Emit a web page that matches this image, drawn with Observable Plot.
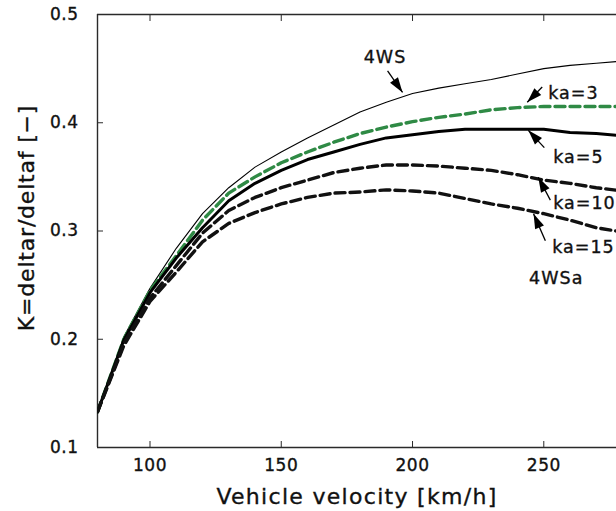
<!DOCTYPE html>
<html>
<head>
<meta charset="utf-8">
<script src="https://cdn.jsdelivr.net/npm/d3@7"></script>
<script src="https://cdn.jsdelivr.net/npm/@observablehq/plot@0.6"></script>
<style>
  html, body { margin: 0; padding: 0; background: #fff; overflow: hidden; }
  #chart svg { display: block; }
  #chart svg text { letter-spacing: 0.5px; stroke: #111; stroke-width: 0.35px; }
  #chart svg .xtitle text { letter-spacing: 1.3px; }
  #chart svg .ytitle text { letter-spacing: 0.8px; }
  #chart svg .annot text { letter-spacing: 1px; }
</style>
</head>
<body>
<div id="chart"></div>
<script>
// ---- data ----
const speed = [80, 90, 100, 110, 120, 130, 140, 150, 160, 170, 180, 190, 200, 210, 220, 230, 240, 250, 260, 270, 280];
const k4WS  = [0.133, 0.202, 0.247, 0.284, 0.316, 0.340, 0.359, 0.373, 0.386, 0.398, 0.410, 0.419, 0.427, 0.432, 0.436, 0.440, 0.445, 0.450, 0.453, 0.455, 0.457];
const kKa3  = [0.133, 0.200, 0.245, 0.277, 0.310, 0.335, 0.350, 0.363, 0.373, 0.382, 0.390, 0.396, 0.401, 0.405, 0.408, 0.412, 0.414, 0.415, 0.415, 0.415, 0.415];
const kKa5  = [0.133, 0.199, 0.243, 0.275, 0.303, 0.328, 0.344, 0.356, 0.366, 0.373, 0.380, 0.386, 0.389, 0.392, 0.394, 0.394, 0.394, 0.394, 0.391, 0.390, 0.388];
const kKa10 = [0.133, 0.196, 0.238, 0.268, 0.298, 0.319, 0.331, 0.340, 0.347, 0.354, 0.358, 0.361, 0.361, 0.360, 0.358, 0.356, 0.352, 0.347, 0.344, 0.340, 0.337];
const kKa15 = [0.133, 0.194, 0.235, 0.262, 0.290, 0.307, 0.317, 0.325, 0.331, 0.335, 0.336, 0.338, 0.337, 0.335, 0.330, 0.325, 0.321, 0.316, 0.310, 0.303, 0.299];

const seriesNames = ["4WS", "ka=3", "ka=5", "ka=10", "ka=15"];

// annotation labels (data coordinates, left edge / vertical centre)
const annotLabels = ["4WS", "ka=3", "ka=5", "ka=10", "ka=15", "4WSa"];
const annotX      = [181.4, 251.7, 253.6, 253.6, 253.2, 244.4];
const annotY      = [0.460, 0.4275, 0.368, 0.3257, 0.285, 0.256];

// annotation arrows (tail -> tip, data coordinates)
const arrowFromX = [190.5, 249.4, 250.2, 252.5, 250.6];
const arrowFromY = [0.448, 0.433, 0.377, 0.3285, 0.291];
const arrowTipX  = [196.2, 243.7, 244.1, 247.9, 246.1];
const arrowTipY  = [0.428, 0.419, 0.393, 0.3497, 0.316];

const xTicks = [100, 150, 200, 250];
const yTicks = [0.1, 0.2, 0.3, 0.4, 0.5];
const xDomain = [80, 277.7];
const yDomain = [0.1, 0.5];
const xLabel = "Vehicle velocity [km/h]";
const yLabel = "K=deltar/deltaf [−]";

// ---- layout ----
const W = 616, H = 511;
const mL = 97, mR = 0, mT = 14, mB = 64;
const xRange = [mL, W - mR];
const yRange = [H - mB, mT];

// ---- build tables ----
const allSeries = [k4WS, kKa3, kKa5, kKa10, kKa15];
const rows = [];
allSeries.forEach((vals, s) => vals.forEach((v, i) => rows.push({series: seriesNames[s], v: speed[i], k: v})));
const bySeries = name => rows.filter(r => r.series === name);

const labels = annotLabels.map((t, i) => ({t, x: annotX[i], y: annotY[i]}));

const sx = Plot.scale({x: {domain: xDomain, range: xRange}});
const sy = Plot.scale({y: {domain: yDomain, range: yRange}});
const arrows = arrowFromX.map((_, i) => {
  const dx = sx.apply(arrowTipX[i]) - sx.apply(arrowFromX[i]);
  const dy = sy.apply(arrowTipY[i]) - sy.apply(arrowFromY[i]);
  return {
    x1: arrowFromX[i], y1: arrowFromY[i],
    x2: arrowTipX[i], y2: arrowTipY[i],
    angle: Math.atan2(dx, -dy) * 180 / Math.PI
  };
});

// narrow filled arrowhead, tip at origin pointing up
const arrowHead = {
  draw(ctx) {
    ctx.moveTo(0, 0);
    ctx.lineTo(-4.8, 15);
    ctx.lineTo(4.8, 15);
    ctx.closePath();
  }
};

const dash = "10,5";
const frameColor = "#2a2a2a";

const chart = Plot.plot({
  width: W,
  height: H,
  marginLeft: mL, marginRight: mR, marginTop: mT, marginBottom: mB,
  style: {fontFamily: "DejaVu Sans, sans-serif", color: "#111", background: "#fff"},
  x: {domain: xDomain, range: xRange, label: null},
  y: {domain: yDomain, range: yRange, label: null},
  marks: [
    // frame (left, bottom, top; right side is cropped)
    Plot.ruleX([xDomain[0]], {stroke: frameColor, strokeWidth: 1.4}),
    Plot.ruleY([yDomain[0]], {stroke: frameColor, strokeWidth: 1.4}),
    Plot.ruleY([yDomain[1]], {stroke: frameColor, strokeWidth: 1.4}),
    // axes with inward ticks
    Plot.axisX(xTicks, {anchor: "bottom", tickSize: -6, tickPadding: 17, fontSize: 17, stroke: frameColor, label: null, tickFormat: d => String(d)}),
    Plot.axisX(xTicks, {anchor: "top", tickSize: -6, tickFormat: () => "", label: null, stroke: frameColor}),
    Plot.axisY(yTicks, {anchor: "left", tickSize: -6, tickPadding: 25, fontSize: 17, stroke: frameColor, label: null, tickFormat: d => d.toFixed(1)}),
    // curves
    Plot.line(bySeries("4WS"),  {x: "v", y: "k", stroke: "#000", strokeWidth: 1.1, clip: true}),
    Plot.line(bySeries("ka=3"), {x: "v", y: "k", stroke: "#2f8a45", strokeWidth: 3.4, strokeDasharray: dash, clip: true}),
    Plot.line(bySeries("ka=5"), {x: "v", y: "k", stroke: "#000", strokeWidth: 3, clip: true}),
    Plot.line(bySeries("ka=10"), {x: "v", y: "k", stroke: "#111", strokeWidth: 3.4, strokeDasharray: dash, clip: true}),
    Plot.line(bySeries("ka=15"), {x: "v", y: "k", stroke: "#111", strokeWidth: 3.4, strokeDasharray: dash, clip: true}),
    // annotation arrows
    Plot.link(arrows, {x1: "x1", y1: "y1", x2: "x2", y2: "y2", stroke: "#000", strokeWidth: 1.3}),
    Plot.dot(arrows, {x: "x2", y: "y2", symbol: arrowHead, rotate: "angle", fill: "#000", r: 5}),
    // annotation labels
    Plot.text(labels, {x: "x", y: "y", text: "t", textAnchor: "start", fontSize: 17.5, fill: "#111", className: "annot"}),
    // axis titles
    Plot.text([xLabel], {frameAnchor: "bottom", dy: 49, fontSize: 22, fill: "#111", lineAnchor: "middle", textAnchor: "middle", className: "xtitle"}),
    Plot.text([yLabel], {frameAnchor: "left", dx: -71, dy: -13, rotate: -90, fontSize: 22, fill: "#111", textAnchor: "middle", lineAnchor: "middle", className: "ytitle"})
  ]
});

document.getElementById("chart").appendChild(chart);
</script>
</body>
</html>
